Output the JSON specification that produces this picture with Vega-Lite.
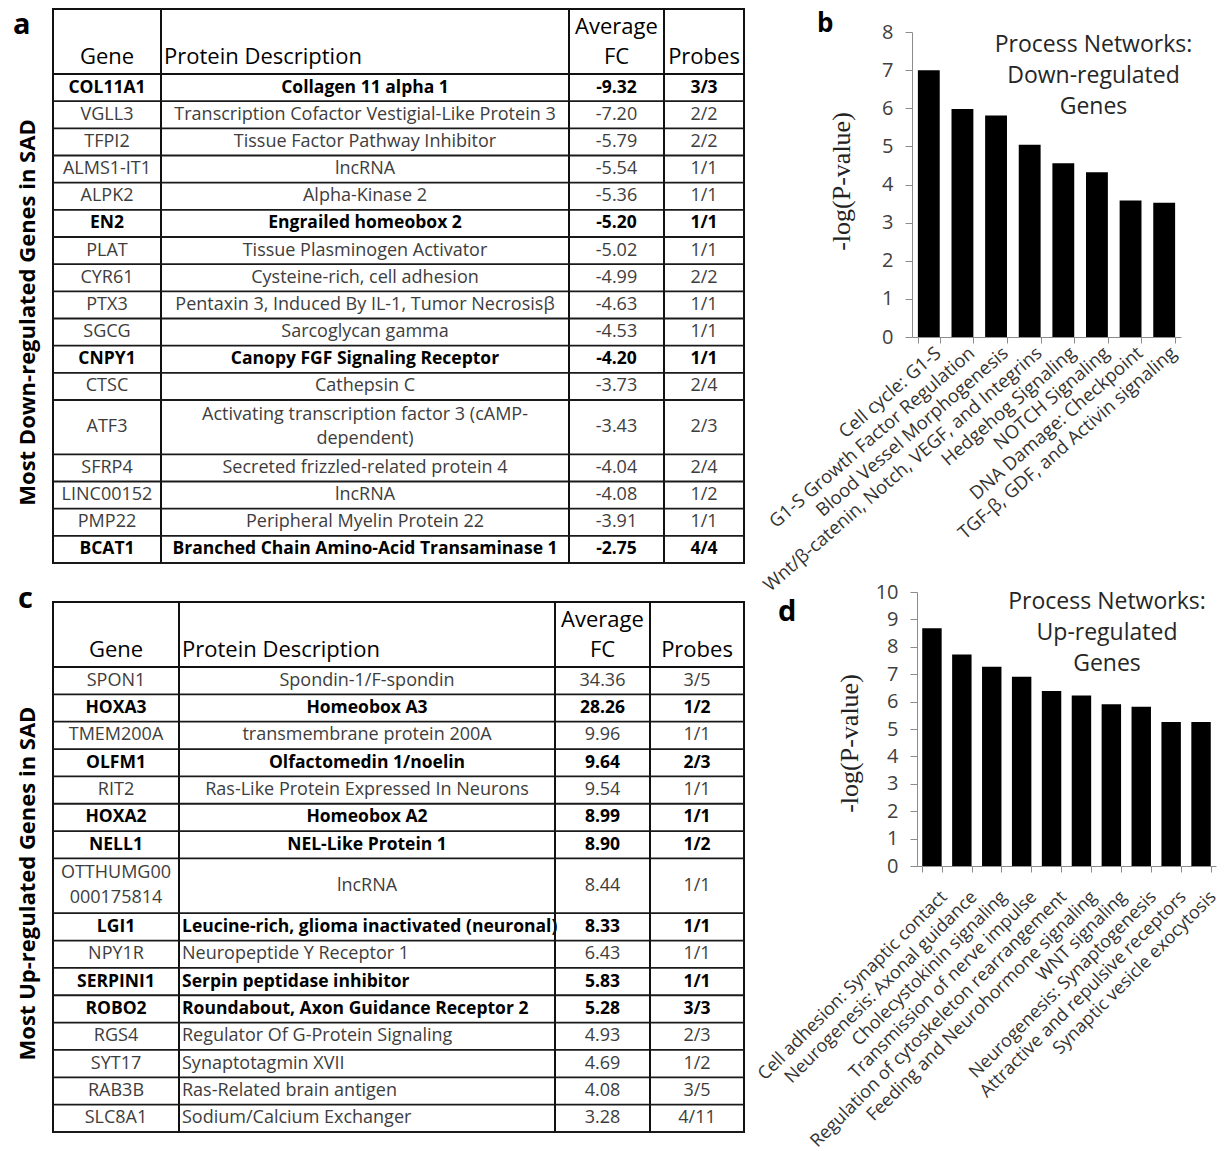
{
"$schema": "https://vega.github.io/schema/vega-lite/v6.json",
"background": "white",
"padding": {"left": 12, "top": 8, "right": 0, "bottom": 0},
"config": {
  "view": {"stroke": null},
  "font": "Open Sans",
  "text": {"font": "Open Sans", "fontSize": 18, "color": "#3d3d3d", "lineHeight": 24},
  "title": {"font": "Open Sans", "color": "#000"},
  "locale": {"number": {"decimal": ".", "thousands": ",", "grouping": [3], "currency": ["$", ""], "minus": "-"}}
},
"datasets": {
  "down": [
    {"rank": 1, "gene": "COL11A1", "desc": "Collagen 11 alpha 1", "fc": -9.32, "probes": "3/3", "hl": true},
    {"rank": 2, "gene": "VGLL3", "desc": "Transcription Cofactor Vestigial-Like Protein 3", "fc": -7.20, "probes": "2/2"},
    {"rank": 3, "gene": "TFPI2", "desc": "Tissue Factor Pathway Inhibitor", "fc": -5.79, "probes": "2/2"},
    {"rank": 4, "gene": "ALMS1-IT1", "desc": "lncRNA", "fc": -5.54, "probes": "1/1"},
    {"rank": 5, "gene": "ALPK2", "desc": "Alpha-Kinase 2", "fc": -5.36, "probes": "1/1"},
    {"rank": 6, "gene": "EN2", "desc": "Engrailed homeobox 2", "fc": -5.20, "probes": "1/1", "hl": true},
    {"rank": 7, "gene": "PLAT", "desc": "Tissue Plasminogen Activator", "fc": -5.02, "probes": "1/1"},
    {"rank": 8, "gene": "CYR61", "desc": "Cysteine-rich, cell adhesion", "fc": -4.99, "probes": "2/2"},
    {"rank": 9, "gene": "PTX3", "desc": "Pentaxin 3, Induced By IL-1, Tumor Necrosisβ", "fc": -4.63, "probes": "1/1"},
    {"rank": 10, "gene": "SGCG", "desc": "Sarcoglycan gamma", "fc": -4.53, "probes": "1/1"},
    {"rank": 11, "gene": "CNPY1", "desc": "Canopy FGF Signaling Receptor", "fc": -4.20, "probes": "1/1", "hl": true},
    {"rank": 12, "gene": "CTSC", "desc": "Cathepsin C", "fc": -3.73, "probes": "2/4"},
    {"rank": 13, "gene": "ATF3", "desc": ["Activating transcription factor 3  (cAMP-", "dependent)"], "fc": -3.43, "probes": "2/3"},
    {"rank": 14, "gene": "SFRP4", "desc": "Secreted frizzled-related protein 4", "fc": -4.04, "probes": "2/4"},
    {"rank": 15, "gene": "LINC00152", "desc": "lncRNA", "fc": -4.08, "probes": "1/2"},
    {"rank": 16, "gene": "PMP22", "desc": "Peripheral Myelin Protein 22", "fc": -3.91, "probes": "1/1"},
    {"rank": 17, "gene": "BCAT1", "desc": "Branched Chain Amino-Acid Transaminase 1", "fc": -2.75, "probes": "4/4", "hl": true}
  ],
  "up": [
    {"rank": 1, "gene": "SPON1", "desc": "Spondin-1/F-spondin", "fc": 34.36, "probes": "3/5"},
    {"rank": 2, "gene": "HOXA3", "desc": "Homeobox A3", "fc": 28.26, "probes": "1/2", "hl": true},
    {"rank": 3, "gene": "TMEM200A", "desc": "transmembrane protein 200A", "fc": 9.96, "probes": "1/1"},
    {"rank": 4, "gene": "OLFM1", "desc": "Olfactomedin 1/noelin", "fc": 9.64, "probes": "2/3", "hl": true},
    {"rank": 5, "gene": "RIT2", "desc": "Ras-Like Protein Expressed In Neurons", "fc": 9.54, "probes": "1/1"},
    {"rank": 6, "gene": "HOXA2", "desc": "Homeobox A2", "fc": 8.99, "probes": "1/1", "hl": true},
    {"rank": 7, "gene": "NELL1", "desc": "NEL-Like Protein 1", "fc": 8.90, "probes": "1/2", "hl": true},
    {"rank": 8, "gene": ["OTTHUMG00", "000175814"], "desc": "lncRNA", "fc": 8.44, "probes": "1/1"},
    {"rank": 9, "gene": "LGI1", "desc": "Leucine-rich, glioma inactivated (neuronal)", "fc": 8.33, "probes": "1/1", "hl": true},
    {"rank": 10, "gene": "NPY1R", "desc": "Neuropeptide Y Receptor 1", "fc": 6.43, "probes": "1/1"},
    {"rank": 11, "gene": "SERPINI1", "desc": "Serpin peptidase inhibitor", "fc": 5.83, "probes": "1/1", "hl": true},
    {"rank": 12, "gene": "ROBO2", "desc": "Roundabout, Axon Guidance Receptor 2", "fc": 5.28, "probes": "3/3", "hl": true},
    {"rank": 13, "gene": "RGS4", "desc": "Regulator Of G-Protein Signaling", "fc": 4.93, "probes": "2/3"},
    {"rank": 14, "gene": "SYT17", "desc": "Synaptotagmin XVII", "fc": 4.69, "probes": "1/2"},
    {"rank": 15, "gene": "RAB3B", "desc": "Ras-Related brain antigen", "fc": 4.08, "probes": "3/5"},
    {"rank": 16, "gene": "SLC8A1", "desc": "Sodium/Calcium Exchanger", "fc": 3.28, "probes": "4/11"}
  ],
  "downNet": [
    {"process": "Cell cycle: G1-S", "logp": 7.0},
    {"process": "G1-S Growth Factor Regulation", "logp": 5.98},
    {"process": "Blood Vessel Morphogenesis", "logp": 5.81},
    {"process": "Wnt/β-catenin, Notch, VEGF, and Integrins", "logp": 5.04},
    {"process": "Hedgehog Signaling", "logp": 4.56},
    {"process": "NOTCH Signaling", "logp": 4.32},
    {"process": "DNA Damage: Checkpoint", "logp": 3.58},
    {"process": "TGF-β, GDF, and Activin signaling", "logp": 3.52}
  ],
  "upNet": [
    {"process": "Cell adhesion: Synaptic contact", "logp": 8.68},
    {"process": "Neurogenesis: Axonal guidance", "logp": 7.72},
    {"process": "Cholecystokinin signaling", "logp": 7.27},
    {"process": "Transmission of nerve impulse", "logp": 6.91},
    {"process": "Regulation of cytoskeleton rearrangement", "logp": 6.39},
    {"process": "Feeding and Neurohormone signaling", "logp": 6.22},
    {"process": "WNT signaling", "logp": 5.90},
    {"process": "Neurogenesis: Synaptogenesis", "logp": 5.81},
    {"process": "Attractive and repulsive receptors", "logp": 5.26},
    {"process": "Synaptic vesicle exocytosis", "logp": 5.26}
  ]
},
"spacing": 8,
"hconcat": [
  {"spacing": 19, "vconcat": [
    {"columns": 4, "spacing": 0, "bounds": "flush", "align": "each",
     "data": {"name": "down"},
     "transform": [
       {"calculate": "isArray(datum.desc) || isArray(datum.gene) ? 2 : 1", "as": "lines"},
       {"window": [{"op": "sum", "field": "lines", "as": "end"}], "sort": [{"field": "rank", "order": "ascending"}], "frame": [null, 0]},
       {"calculate": "datum.end - datum.lines / 2", "as": "mid"}
     ],
     "concat": [
      {"width": 108, "height": 65, "view": {"stroke": "#111", "strokeWidth": 2}, "data": {"values": [{"h": "Gene"}]},
       "title": {"text": "a", "orient": "top", "anchor": "start", "frame": "group", "offset": 0, "baseline": "alphabetic", "dx": -40, "dy": 54, "fontSize": 29, "fontWeight": "bold", "color": "#000"},
       "mark": {"type": "text", "y": "height", "baseline": "bottom", "dy": -5, "fontSize": 22, "color": "#000"},
       "encoding": {"text": {"field": "h", "type": "nominal"}}},
      {"width": 408, "height": 65, "view": {"stroke": "#111", "strokeWidth": 2}, "data": {"values": [{"h": "Protein Description"}]},
       "mark": {"type": "text", "y": "height", "x": 0, "dx": 3, "align": "left", "baseline": "bottom", "dy": -5, "fontSize": 22, "color": "#000"},
       "encoding": {"text": {"field": "h", "type": "nominal"}}},
      {"width": 95, "height": 65, "view": {"stroke": "#111", "strokeWidth": 2}, "data": {"values": [{"h": ["Average", "FC"]}]},
       "mark": {"type": "text", "y": "height", "baseline": "bottom", "dy": -35, "fontSize": 22, "color": "#000", "lineHeight": 30},
       "encoding": {"text": {"field": "h", "type": "nominal"}}},
      {"width": 80, "height": 65, "view": {"stroke": "#111", "strokeWidth": 2}, "data": {"values": [{"h": "Probes"}]},
       "mark": {"type": "text", "y": "height", "baseline": "bottom", "dy": -5, "fontSize": 22, "color": "#000"},
       "encoding": {"text": {"field": "h", "type": "nominal"}}},
      {"width": 108, "height": 489, "view": {"stroke": "#111", "strokeWidth": 2},
       "title": {"text": "Most Down-regulated Genes in SAD", "orient": "left", "anchor": "middle", "frame": "group", "offset": 12, "dx": 6, "fontSize": 22, "fontWeight": "bold", "color": "#000"},
       "layer": [
        {"mark": {"type": "rule", "color": "#1a1a1a", "strokeWidth": 1.8}, "encoding": {"y": {"field": "end", "type": "quantitative", "scale": {"domain": [0, 18], "reverse": true, "nice": false, "zero": false}, "axis": null}}},
        {"transform": [{"filter": "!datum.hl"}], "mark": {"type": "text"}, "encoding": {"y": {"field": "mid", "type": "quantitative", "scale": {"domain": [0, 18], "reverse": true, "nice": false, "zero": false}, "axis": null}, "text": {"field": "gene", "type": "nominal"}}},
        {"transform": [{"filter": "datum.hl"}], "mark": {"type": "text", "fontWeight": "bold", "fontSize": 17.5, "color": "#000"}, "encoding": {"y": {"field": "mid", "type": "quantitative", "scale": {"domain": [0, 18], "reverse": true, "nice": false, "zero": false}, "axis": null}, "text": {"field": "gene", "type": "nominal"}}}
       ]},
      {"width": 408, "height": 489, "view": {"stroke": "#111", "strokeWidth": 2},
       "layer": [
        {"mark": {"type": "rule", "color": "#1a1a1a", "strokeWidth": 1.8}, "encoding": {"y": {"field": "end", "type": "quantitative", "scale": {"domain": [0, 18], "reverse": true, "nice": false, "zero": false}, "axis": null}}},
        {"transform": [{"filter": "!datum.hl && datum.lines == 1"}], "mark": {"type": "text"}, "encoding": {"y": {"field": "mid", "type": "quantitative", "scale": {"domain": [0, 18], "reverse": true, "nice": false, "zero": false}, "axis": null}, "text": {"field": "desc", "type": "nominal"}}},
        {"transform": [{"filter": "!datum.hl && datum.lines == 2"}], "mark": {"type": "text", "dy": -12}, "encoding": {"y": {"field": "mid", "type": "quantitative", "scale": {"domain": [0, 18], "reverse": true, "nice": false, "zero": false}, "axis": null}, "text": {"field": "desc", "type": "nominal"}}},
        {"transform": [{"filter": "datum.hl"}], "mark": {"type": "text", "fontWeight": "bold", "fontSize": 17.5, "color": "#000"}, "encoding": {"y": {"field": "mid", "type": "quantitative", "scale": {"domain": [0, 18], "reverse": true, "nice": false, "zero": false}, "axis": null}, "text": {"field": "desc", "type": "nominal"}}}
       ]},
      {"width": 95, "height": 489, "view": {"stroke": "#111", "strokeWidth": 2},
       "layer": [
        {"mark": {"type": "rule", "color": "#1a1a1a", "strokeWidth": 1.8}, "encoding": {"y": {"field": "end", "type": "quantitative", "scale": {"domain": [0, 18], "reverse": true, "nice": false, "zero": false}, "axis": null}}},
        {"transform": [{"filter": "!datum.hl"}], "mark": {"type": "text"}, "encoding": {"y": {"field": "mid", "type": "quantitative", "scale": {"domain": [0, 18], "reverse": true, "nice": false, "zero": false}, "axis": null}, "text": {"field": "fc", "type": "quantitative", "format": ".2f"}}},
        {"transform": [{"filter": "datum.hl"}], "mark": {"type": "text", "fontWeight": "bold", "fontSize": 17.5, "color": "#000"}, "encoding": {"y": {"field": "mid", "type": "quantitative", "scale": {"domain": [0, 18], "reverse": true, "nice": false, "zero": false}, "axis": null}, "text": {"field": "fc", "type": "quantitative", "format": ".2f"}}}
       ]},
      {"width": 80, "height": 489, "view": {"stroke": "#111", "strokeWidth": 2},
       "layer": [
        {"mark": {"type": "rule", "color": "#1a1a1a", "strokeWidth": 1.8}, "encoding": {"y": {"field": "end", "type": "quantitative", "scale": {"domain": [0, 18], "reverse": true, "nice": false, "zero": false}, "axis": null}}},
        {"transform": [{"filter": "!datum.hl"}], "mark": {"type": "text"}, "encoding": {"y": {"field": "mid", "type": "quantitative", "scale": {"domain": [0, 18], "reverse": true, "nice": false, "zero": false}, "axis": null}, "text": {"field": "probes", "type": "nominal"}}},
        {"transform": [{"filter": "datum.hl"}], "mark": {"type": "text", "fontWeight": "bold", "fontSize": 17.5, "color": "#000"}, "encoding": {"y": {"field": "mid", "type": "quantitative", "scale": {"domain": [0, 18], "reverse": true, "nice": false, "zero": false}, "axis": null}, "text": {"field": "probes", "type": "nominal"}}}
       ]}
     ]},
    {"columns": 4, "spacing": 0, "bounds": "flush", "align": "each",
     "data": {"name": "up"},
     "transform": [
       {"calculate": "isArray(datum.desc) || isArray(datum.gene) ? 2 : 1", "as": "lines"},
       {"window": [{"op": "sum", "field": "lines", "as": "end"}], "sort": [{"field": "rank", "order": "ascending"}], "frame": [null, 0]},
       {"calculate": "datum.end - datum.lines / 2", "as": "mid"}
     ],
     "concat": [
      {"width": 126, "height": 65, "view": {"stroke": "#111", "strokeWidth": 2}, "data": {"values": [{"h": "Gene"}]},
       "title": {"text": "c", "orient": "top", "anchor": "start", "frame": "group", "offset": 0, "baseline": "alphabetic", "dx": -35, "dy": 35, "fontSize": 29, "fontWeight": "bold", "color": "#000"},
       "mark": {"type": "text", "y": "height", "baseline": "bottom", "dy": -5, "fontSize": 22, "color": "#000"},
       "encoding": {"text": {"field": "h", "type": "nominal"}}},
      {"width": 376, "height": 65, "view": {"stroke": "#111", "strokeWidth": 2}, "data": {"values": [{"h": "Protein Description"}]},
       "mark": {"type": "text", "y": "height", "x": 0, "dx": 3, "align": "left", "baseline": "bottom", "dy": -5, "fontSize": 22, "color": "#000"},
       "encoding": {"text": {"field": "h", "type": "nominal"}}},
      {"width": 95, "height": 65, "view": {"stroke": "#111", "strokeWidth": 2}, "data": {"values": [{"h": ["Average", "FC"]}]},
       "mark": {"type": "text", "y": "height", "baseline": "bottom", "dy": -35, "fontSize": 22, "color": "#000", "lineHeight": 30},
       "encoding": {"text": {"field": "h", "type": "nominal"}}},
      {"width": 94, "height": 65, "view": {"stroke": "#111", "strokeWidth": 2}, "data": {"values": [{"h": "Probes"}]},
       "mark": {"type": "text", "y": "height", "baseline": "bottom", "dy": -5, "fontSize": 22, "color": "#000"},
       "encoding": {"text": {"field": "h", "type": "nominal"}}},
      {"width": 126, "height": 465, "view": {"stroke": "#111", "strokeWidth": 2},
       "title": {"text": "Most Up-regulated Genes in SAD", "orient": "left", "anchor": "middle", "frame": "group", "offset": 12, "dx": 16, "fontSize": 22, "fontWeight": "bold", "color": "#000"},
       "layer": [
        {"mark": {"type": "rule", "color": "#1a1a1a", "strokeWidth": 1.8}, "encoding": {"y": {"field": "end", "type": "quantitative", "scale": {"domain": [0, 17], "reverse": true, "nice": false, "zero": false}, "axis": null}}},
        {"transform": [{"filter": "!datum.hl && datum.lines == 1"}], "mark": {"type": "text"}, "encoding": {"y": {"field": "mid", "type": "quantitative", "scale": {"domain": [0, 17], "reverse": true, "nice": false, "zero": false}, "axis": null}, "text": {"field": "gene", "type": "nominal"}}},
        {"transform": [{"filter": "!datum.hl && datum.lines == 2"}], "mark": {"type": "text", "dy": -12.5, "lineHeight": 25}, "encoding": {"y": {"field": "mid", "type": "quantitative", "scale": {"domain": [0, 17], "reverse": true, "nice": false, "zero": false}, "axis": null}, "text": {"field": "gene", "type": "nominal"}}},
        {"transform": [{"filter": "datum.hl"}], "mark": {"type": "text", "fontWeight": "bold", "fontSize": 17.5, "color": "#000"}, "encoding": {"y": {"field": "mid", "type": "quantitative", "scale": {"domain": [0, 17], "reverse": true, "nice": false, "zero": false}, "axis": null}, "text": {"field": "gene", "type": "nominal"}}}
       ]},
      {"width": 376, "height": 465, "view": {"stroke": "#111", "strokeWidth": 2},
       "layer": [
        {"mark": {"type": "rule", "color": "#1a1a1a", "strokeWidth": 1.8}, "encoding": {"y": {"field": "end", "type": "quantitative", "scale": {"domain": [0, 17], "reverse": true, "nice": false, "zero": false}, "axis": null}}},
        {"transform": [{"filter": "!datum.hl && datum.rank <= 8"}], "mark": {"type": "text"}, "encoding": {"y": {"field": "mid", "type": "quantitative", "scale": {"domain": [0, 17], "reverse": true, "nice": false, "zero": false}, "axis": null}, "text": {"field": "desc", "type": "nominal"}}},
        {"transform": [{"filter": "datum.hl && datum.rank <= 8"}], "mark": {"type": "text", "fontWeight": "bold", "fontSize": 17.5, "color": "#000"}, "encoding": {"y": {"field": "mid", "type": "quantitative", "scale": {"domain": [0, 17], "reverse": true, "nice": false, "zero": false}, "axis": null}, "text": {"field": "desc", "type": "nominal"}}},
        {"transform": [{"filter": "!datum.hl && datum.rank > 8"}], "mark": {"type": "text", "align": "left", "x": 0, "dx": 3}, "encoding": {"y": {"field": "mid", "type": "quantitative", "scale": {"domain": [0, 17], "reverse": true, "nice": false, "zero": false}, "axis": null}, "text": {"field": "desc", "type": "nominal"}}},
        {"transform": [{"filter": "datum.hl && datum.rank > 8"}], "mark": {"type": "text", "align": "left", "x": 0, "dx": 3, "fontWeight": "bold", "fontSize": 17.5, "color": "#000"}, "encoding": {"y": {"field": "mid", "type": "quantitative", "scale": {"domain": [0, 17], "reverse": true, "nice": false, "zero": false}, "axis": null}, "text": {"field": "desc", "type": "nominal"}}}
       ]},
      {"width": 95, "height": 465, "view": {"stroke": "#111", "strokeWidth": 2},
       "layer": [
        {"mark": {"type": "rule", "color": "#1a1a1a", "strokeWidth": 1.8}, "encoding": {"y": {"field": "end", "type": "quantitative", "scale": {"domain": [0, 17], "reverse": true, "nice": false, "zero": false}, "axis": null}}},
        {"transform": [{"filter": "!datum.hl"}], "mark": {"type": "text"}, "encoding": {"y": {"field": "mid", "type": "quantitative", "scale": {"domain": [0, 17], "reverse": true, "nice": false, "zero": false}, "axis": null}, "text": {"field": "fc", "type": "quantitative", "format": ".2f"}}},
        {"transform": [{"filter": "datum.hl"}], "mark": {"type": "text", "fontWeight": "bold", "fontSize": 17.5, "color": "#000"}, "encoding": {"y": {"field": "mid", "type": "quantitative", "scale": {"domain": [0, 17], "reverse": true, "nice": false, "zero": false}, "axis": null}, "text": {"field": "fc", "type": "quantitative", "format": ".2f"}}}
       ]},
      {"width": 94, "height": 465, "view": {"stroke": "#111", "strokeWidth": 2},
       "layer": [
        {"mark": {"type": "rule", "color": "#1a1a1a", "strokeWidth": 1.8}, "encoding": {"y": {"field": "end", "type": "quantitative", "scale": {"domain": [0, 17], "reverse": true, "nice": false, "zero": false}, "axis": null}}},
        {"transform": [{"filter": "!datum.hl"}], "mark": {"type": "text"}, "encoding": {"y": {"field": "mid", "type": "quantitative", "scale": {"domain": [0, 17], "reverse": true, "nice": false, "zero": false}, "axis": null}, "text": {"field": "probes", "type": "nominal"}}},
        {"transform": [{"filter": "datum.hl"}], "mark": {"type": "text", "fontWeight": "bold", "fontSize": 17.5, "color": "#000"}, "encoding": {"y": {"field": "mid", "type": "quantitative", "scale": {"domain": [0, 17], "reverse": true, "nice": false, "zero": false}, "axis": null}, "text": {"field": "probes", "type": "nominal"}}}
       ]}
     ]}
  ]},
  {"bounds": "flush", "spacing": 0, "vconcat": [
    {"width": 1, "height": 23, "data": {"values": [{}]}, "mark": {"type": "point", "opacity": 0},
     "title": {"text": "b", "orient": "top", "anchor": "start", "frame": "group", "offset": 0, "baseline": "alphabetic", "dx": -95, "dy": 49, "fontSize": 26, "fontWeight": "bold", "color": "#000"}},
    {"width": 269, "height": 305, "data": {"name": "downNet"},
     "title": {"text": ["Process Networks:", "Down-regulated", "Genes"], "orient": "top", "anchor": "middle", "frame": "group", "offset": 0, "baseline": "alphabetic", "dx": 47, "dy": 115, "fontSize": 23, "fontWeight": "normal", "color": "#262626", "lineHeight": 31},
     "mark": {"type": "bar", "color": "#000"},
     "encoding": {
       "x": {"field": "process", "type": "nominal", "sort": null, "scale": {"paddingInner": 0.35, "paddingOuter": 0.175},
             "axis": {"title": null, "labelAngle": -41, "labelAlign": "right", "labelBaseline": "middle", "labelFontSize": 18.5, "labelColor": "#333", "labelLimit": 0, "labelOverlap": false, "tickBand": "extent", "tickSize": 6, "domainColor": "#8c8c8c", "tickColor": "#8c8c8c", "labelPadding": 7, "labelOffset": 9, "labelFont": "Open Sans"}},
       "y": {"field": "logp", "type": "quantitative", "scale": {"domain": [0, 8], "nice": false},
             "axis": {"title": "-log(P-value)", "titleFont": "Liberation Serif", "titleFontSize": 26, "titleFontWeight": "normal", "titleColor": "#222", "titlePadding": 27, "titleY": 149, "values": [0, 1, 2, 3, 4, 5, 6, 7, 8], "grid": false, "domainColor": "#8c8c8c", "tickColor": "#8c8c8c", "tickSize": 7, "labelFontSize": 20, "labelColor": "#404040", "labelPadding": 12, "labelFont": "Open Sans"}}
     }},
    {"width": 1, "height": 255, "data": {"values": [{}]}, "mark": {"type": "point", "opacity": 0},
     "title": {"text": "d", "orient": "top", "anchor": "start", "frame": "group", "offset": 0, "baseline": "alphabetic", "dx": -134, "dy": 313, "fontSize": 29, "fontWeight": "bold", "color": "#000"}},
    {"width": 304, "height": 274, "data": {"name": "upNet"},
     "title": {"text": ["Process Networks:", "Up-regulated", "Genes"], "orient": "top", "anchor": "middle", "frame": "group", "offset": 0, "baseline": "alphabetic", "dx": 43, "dy": 112, "fontSize": 23, "fontWeight": "normal", "color": "#262626", "lineHeight": 31},
     "mark": {"type": "bar", "color": "#000"},
     "encoding": {
       "x": {"field": "process", "type": "nominal", "sort": null, "scale": {"paddingInner": 0.35, "paddingOuter": 0.175, "range": [5, 304]},
             "axis": {"title": null, "labelAngle": -45, "labelAlign": "right", "labelBaseline": "middle", "labelFontSize": 18, "labelColor": "#333", "labelLimit": 0, "labelOverlap": false, "tickBand": "extent", "tickSize": 6, "domainColor": "#8c8c8c", "tickColor": "#8c8c8c", "labelPadding": 22, "labelOffset": 12, "labelFont": "Open Sans"}},
       "y": {"field": "logp", "type": "quantitative", "scale": {"domain": [0, 10], "nice": false},
             "axis": {"offset": -5, "title": "-log(P-value)", "titleFont": "Liberation Serif", "titleFontSize": 26, "titleFontWeight": "normal", "titleColor": "#222", "titlePadding": 13, "titleY": 151, "values": [0, 1, 2, 3, 4, 5, 6, 7, 8, 9, 10], "grid": false, "domainColor": "#8c8c8c", "tickColor": "#8c8c8c", "tickSize": 7, "labelFontSize": 20, "labelColor": "#404040", "labelPadding": 12, "labelFont": "Open Sans"}}
     }}
  ]}
]
}
